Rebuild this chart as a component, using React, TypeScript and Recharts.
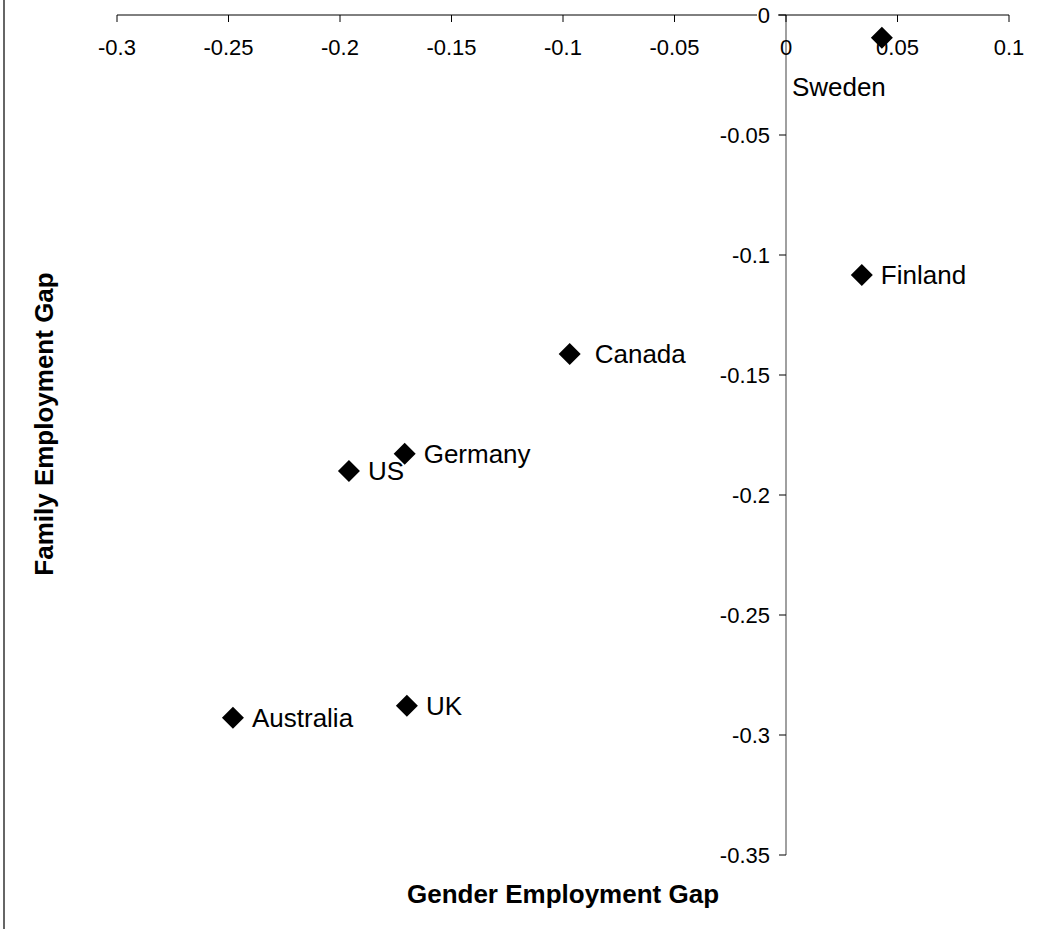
import { ScatterChart, Scatter, XAxis, YAxis, ReferenceLine, Customized } from "recharts";

const countries = ["Sweden", "Finland", "Canada", "Germany", "US", "UK", "Australia"];
const genderGap = [0.043, 0.034, -0.097, -0.171, -0.196, -0.17, -0.248];
const familyGap = [-0.0095, -0.1083, -0.1412, -0.1828, -0.19, -0.2878, -0.2928];
const xTicks = [-0.3, -0.25, -0.2, -0.15, -0.1, -0.05, 0, 0.05, 0.1];
const yTicks = [0, -0.05, -0.1, -0.15, -0.2, -0.25, -0.3, -0.35];

const data = countries.map((name, i) => ({ name, x: genderGap[i], y: familyGap[i] }));

const W = 1052;
const H = 929;
// axis boxes are 1px; plot area is top 15, left 117, right 1009, bottom 855
const margin = { top: 14, right: 43, bottom: 74, left: 116 };
const PLOT_TOP = margin.top + 1;
const PLOT_LEFT = margin.left + 1;
const plotW = W - PLOT_LEFT - margin.right;
// pixel x of the y axis (value 0 on the x scale)
const X0 = PLOT_LEFT + plotW * (0.3 / 0.4);
const FONT = '"Liberation Sans", Arial, Helvetica, sans-serif';

// where each point's name sits relative to the marker
const labelPlace: Record<string, { dx: number; dy: number }> = {
  Sweden: { dx: -90, dy: 49 },
  Canada: { dx: 25, dy: 0 },
};

const Diamond = (props: any) => {
  const { cx, cy, payload } = props;
  const r = 11;
  const pos = labelPlace[payload.name] || { dx: 19, dy: 0 };
  return (
    <g>
      <path d={`M${cx},${cy - r}L${cx + r},${cy}L${cx},${cy + r}L${cx - r},${cy}Z`} fill="#000" />
      <text x={cx + pos.dx} y={cy + pos.dy + 9.3} fontSize={26} fontFamily={FONT} fill="#000">
        {payload.name}
      </text>
    </g>
  );
};

const XTick = (props: any) => {
  const { x, payload } = props;
  return (
    <g>
      <line x1={x} x2={x} y1={PLOT_TOP} y2={PLOT_TOP + 7} stroke="#000" />
      <text x={x} y={PLOT_TOP + 40} textAnchor="middle" fontSize={22} fontFamily={FONT} fill="#000">
        {String(payload.value)}
      </text>
    </g>
  );
};

const YTick = (props: any) => {
  const { y, payload } = props;
  const label = String(payload.value);
  const w = label.length * 12;
  return (
    <g>
      <rect x={X0 - 17 - w} y={y - 9} width={w + 9} height={18} fill="#fff" />
      <line x1={X0 - 7} x2={X0} y1={y} y2={y} stroke="#000" />
      <text x={X0 - 16} y={y + 7.9} textAnchor="end" fontSize={22} fontFamily={FONT} fill="#000">
        {label}
      </text>
    </g>
  );
};

const Titles = () => (
  <g fontFamily={FONT} fontWeight="bold" fontSize={26} fill="#000">
    <line x1={4} x2={4} y1={0} y2={H} stroke="#333" strokeWidth={1.5} />
    <text x={PLOT_LEFT + plotW / 2} y={903.3} textAnchor="middle">
      Gender Employment Gap
    </text>
    <text transform="translate(53.3,424) rotate(-90)" textAnchor="middle">
      Family Employment Gap
    </text>
  </g>
);

export default function App() {
  return (
    <div style={{ position: "absolute", left: 0, top: 0, width: W, height: H, background: "#fff" }}>
      <ScatterChart width={W} height={H} margin={margin}>
        <XAxis
          type="number"
          dataKey="x"
          orientation="top"
          height={1}
          domain={[-0.3, 0.1]}
          ticks={xTicks}
          interval={0}
          axisLine={{ stroke: "#000" }}
          tickLine={false}
          tick={XTick}
        />
        <YAxis
          type="number"
          dataKey="y"
          width={1}
          domain={[-0.35, 0]}
          ticks={yTicks}
          interval={0}
          axisLine={false}
          tickLine={false}
          tick={YTick}
        />
        <ReferenceLine x={0} stroke="#808080" strokeWidth={1.5} />
        <Customized component={<Titles />} />
        <Scatter data={data} shape={<Diamond />} isAnimationActive={false} />
      </ScatterChart>
    </div>
  );
}
